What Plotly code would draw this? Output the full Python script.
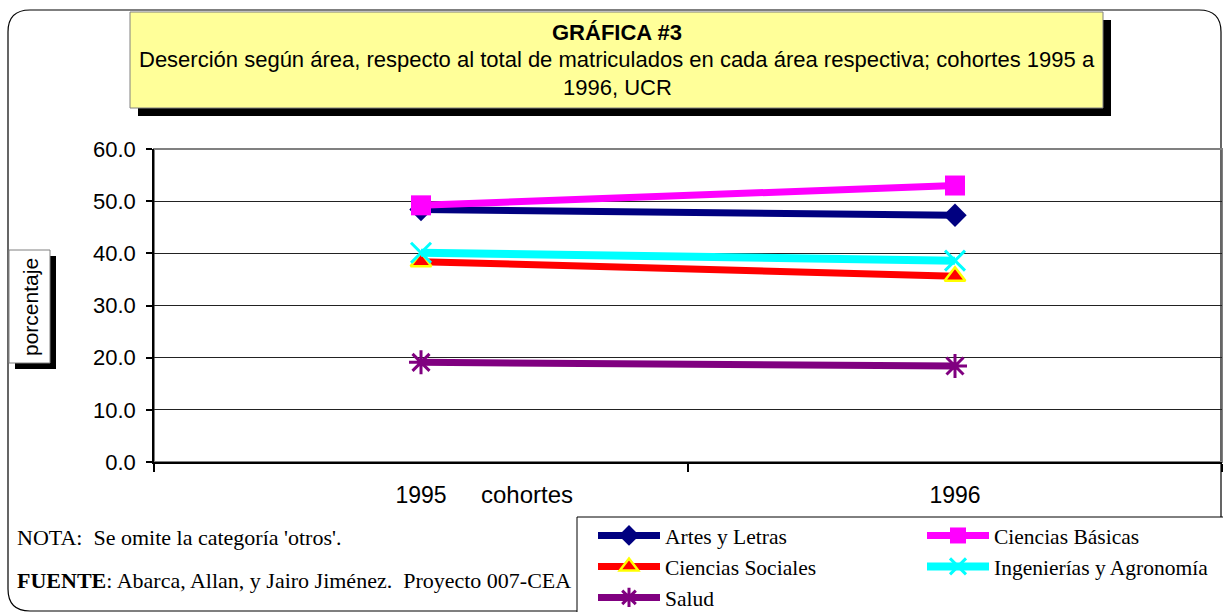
import plotly.graph_objects as go

W, H = 1223, 612

# ---- data ----
cohortes = ["1995", "1996"]
artes_letras = [48.4, 47.3]
ciencias_basicas = [49.2, 53.0]
ciencias_sociales = [38.4, 35.6]
ingenierias_agronomia = [40.1, 38.6]
salud = [19.1, 18.4]
y_ticks = [0, 10, 20, 30, 40, 50, 60]


def X(px):
    return px / W


def Y(py):
    return 1 - py / H


fig = go.Figure()

fig.add_trace(go.Scatter(
    x=cohortes, y=artes_letras, name="Artes y Letras", mode="lines+markers",
    line=dict(color="#000080", width=7),
    marker=dict(symbol="diamond", size=18, color="#000080"),
    legend="legend"))
fig.add_trace(go.Scatter(
    x=cohortes, y=ciencias_basicas, name="Ciencias Básicas", mode="lines+markers",
    line=dict(color="#FF00FF", width=7),
    marker=dict(symbol="square", size=20, color="#FF00FF"),
    legend="legend2"))
fig.add_trace(go.Scatter(
    x=cohortes, y=ciencias_sociales, name="Ciencias Sociales", mode="lines+markers",
    line=dict(color="#FF0000", width=7),
    marker=dict(symbol="triangle-up", size=18, color="#FF0000",
                line=dict(color="#FFFF00", width=2.5)),
    legend="legend"))
fig.add_trace(go.Scatter(
    x=cohortes, y=ingenierias_agronomia, name="Ingenierías y Agronomía", mode="lines+markers",
    line=dict(color="#00FFFF", width=8),
    marker=dict(symbol="x-thin-open", size=20, color="#00FFFF",
                line=dict(color="#00FFFF", width=3)),
    legend="legend2"))
fig.add_trace(go.Scatter(
    x=cohortes, y=salud, name="Salud", mode="lines+markers",
    line=dict(color="#800080", width=7),
    marker=dict(symbol="asterisk-open", size=20, color="#800080",
                line=dict(color="#800080", width=3)),
    legend="legend"))

shapes = []
# chart outer rounded border
r = 22
x0, y0, x1, y1 = 8, 10, 1221, 611
path = (f"M {X(x0+r)},{Y(y0)} L {X(x1-r)},{Y(y0)} Q {X(x1)},{Y(y0)} {X(x1)},{Y(y0+r)} "
        f"L {X(x1)},{Y(y1-r)} Q {X(x1)},{Y(y1)} {X(x1-r)},{Y(y1)} "
        f"L {X(x0+r)},{Y(y1)} Q {X(x0)},{Y(y1)} {X(x0)},{Y(y1-r)} "
        f"L {X(x0)},{Y(y0+r)} Q {X(x0)},{Y(y0)} {X(x0+r)},{Y(y0)} Z")
shapes.append(dict(type="path", path=path, xref="paper", yref="paper",
                   line=dict(color="black", width=1.2), layer="below"))

# plot area border (gray)
shapes.append(dict(type="rect", xref="paper", yref="paper",
                   x0=X(154), x1=X(1223), y0=Y(462), y1=Y(149),
                   line=dict(color="#808080", width=2), layer="below"))

# title box shadow + box
shapes.append(dict(type="rect", xref="paper", yref="paper",
                   x0=X(138), x1=X(1111), y0=Y(116), y1=Y(20),
                   fillcolor="black", line=dict(width=0), layer="above"))
shapes.append(dict(type="rect", xref="paper", yref="paper",
                   x0=X(130), x1=X(1103), y0=Y(108), y1=Y(12),
                   fillcolor="#FFFF99", line=dict(color="#808080", width=1), layer="above"))

# y-title box shadow + box
shapes.append(dict(type="rect", xref="paper", yref="paper",
                   x0=X(15), x1=X(56), y0=Y(369), y1=Y(256),
                   fillcolor="black", line=dict(width=0), layer="above"))
shapes.append(dict(type="rect", xref="paper", yref="paper",
                   x0=X(9), x1=X(50), y0=Y(363), y1=Y(250),
                   fillcolor="white", line=dict(color="#808080", width=1), layer="above"))

# legend box
shapes.append(dict(type="rect", xref="paper", yref="paper",
                   x0=X(577), x1=X(1240), y0=Y(630), y1=Y(517),
                   fillcolor="white", line=dict(color="black", width=1), layer="above"))

SANS = "Liberation Sans, Arial"
SERIF = "Liberation Serif, Times New Roman"

annotations = [
    dict(text="<b>GRÁFICA #3</b>", x=X(617), y=Y(32), xref="paper", yref="paper",
         showarrow=False, xanchor="center", yanchor="middle",
         font=dict(family=SANS, size=22, color="black")),
    dict(text="Deserción según área, respecto al total de matriculados en cada área respectiva; cohortes 1995 a",
         x=X(617), y=Y(60), xref="paper", yref="paper",
         showarrow=False, xanchor="center", yanchor="middle",
         font=dict(family=SANS, size=22, color="black")),
    dict(text="1996, UCR", x=X(617), y=Y(88), xref="paper", yref="paper",
         showarrow=False, xanchor="center", yanchor="middle",
         font=dict(family=SANS, size=22, color="black")),
    dict(text="porcentaje", x=X(30), y=Y(307), xref="paper", yref="paper",
         showarrow=False, xanchor="center", yanchor="middle", textangle=-90,
         font=dict(family=SANS, size=21, color="black")),
    dict(text="cohortes", x=X(527), y=Y(494), xref="paper", yref="paper",
         showarrow=False, xanchor="center", yanchor="middle",
         font=dict(family=SANS, size=24, color="black")),
    dict(text="NOTA:  Se omite la categoría 'otros'.", x=X(15), y=Y(537), xref="paper", yref="paper",
         showarrow=False, xanchor="left", yanchor="middle",
         font=dict(family=SERIF, size=22, color="black")),
    dict(text="<b>FUENTE</b>: Abarca, Allan, y Jairo Jiménez.  Proyecto 007-CEA",
         x=X(15), y=Y(580), xref="paper", yref="paper",
         showarrow=False, xanchor="left", yanchor="middle",
         font=dict(family=SERIF, size=22, color="black")),
]

legend_common = dict(
    orientation="v", bgcolor="rgba(0,0,0,0)", borderwidth=0,
    font=dict(family=SERIF, size=21.5, color="black"),
    itemwidth=62, tracegroupgap=0, xanchor="left", yanchor="top",
    xref="container", yref="container",
)

fig.update_layout(
    width=W, height=H, autosize=False,
    margin=dict(l=0, r=0, t=0, b=0, autoexpand=False),
    paper_bgcolor="white", plot_bgcolor="white",
    showlegend=True,
    legend=dict(x=X(593), y=Y(515), **legend_common),
    legend2=dict(x=X(922), y=Y(515), **legend_common),
    xaxis=dict(
        domain=[X(154), X(1222)], range=[-0.5, 1.5], type="category",
        showgrid=False, zeroline=False, showline=True, linecolor="black", linewidth=1.5,
        ticks="outside", tickson="boundaries", ticklen=8, tickcolor="black", tickwidth=1.5,
        tickfont=dict(family=SANS, size=23, color="black"),
        ticklabelstandoff=12, automargin=False,
    ),
    yaxis=dict(
        domain=[Y(462), Y(149)], range=[0, 60], tickvals=y_ticks, tickformat=".1f",
        showgrid=True, gridcolor="#222222", gridwidth=1, zeroline=False,
        showline=True, linecolor="black", linewidth=1.5,
        ticks="outside", ticklen=6, tickcolor="black", tickwidth=1.5,
        tickfont=dict(family=SANS, size=22, color="black"),
        ticklabelstandoff=6, automargin=False,
    ),
    shapes=shapes,
    annotations=annotations,
)

post = (
    "document.documentElement.style.margin='0';"
    "document.documentElement.style.overflow='hidden';"
    "document.body.style.margin='0';"
    "document.body.style.overflow='hidden';"
    "var gd=document.getElementById('{plot_id}');"
    "gd.style.position='fixed';gd.style.top='0px';gd.style.left='0px';"
)

fig.write_html(
    "out.html",
    config={"displayModeBar": False, "responsive": False},
    post_script=post,
)
